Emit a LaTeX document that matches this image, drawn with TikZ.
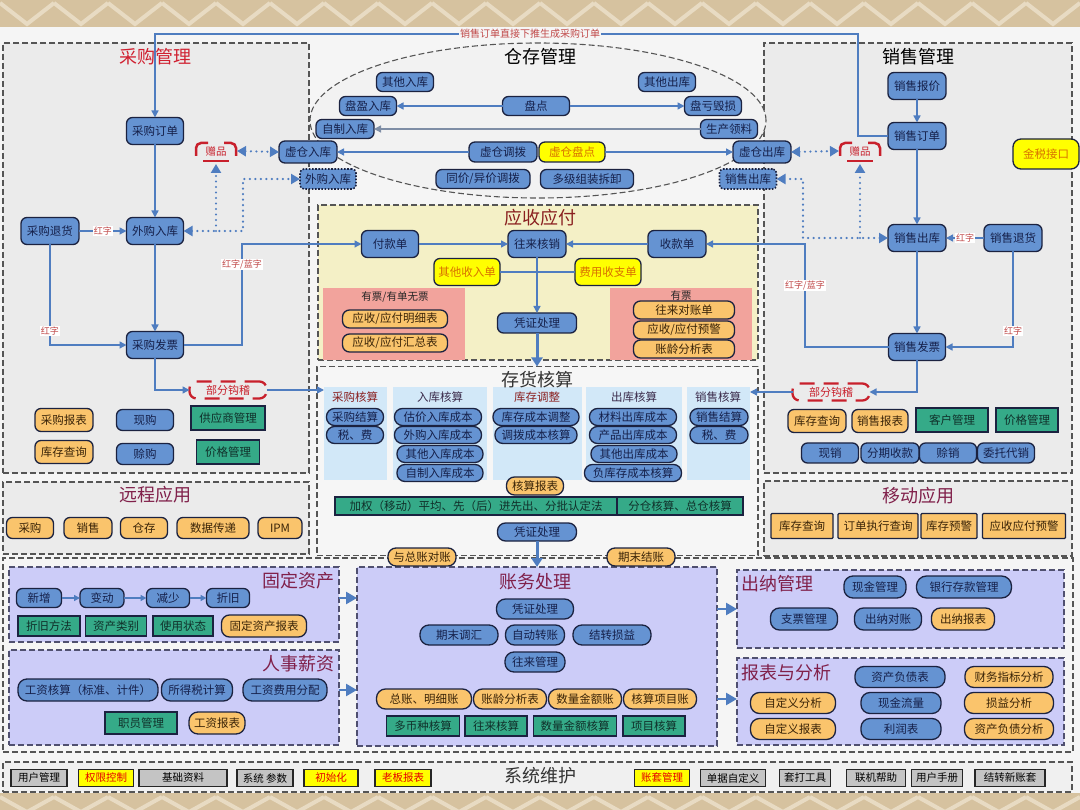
\documentclass[tikz,border=0pt]{standalone}
\usepackage{fontspec}
\setmainfont{Noto Sans CJK SC}
\usetikzlibrary{arrows.meta,shapes.geometric,calc}
\definecolor{bgtan}{HTML}{D6C29F}
\definecolor{bgtan2}{HTML}{E8DBC3}
\definecolor{mainbg}{HTML}{F5F5F5}
\definecolor{panelgray}{HTML}{EBEBEB}
\definecolor{ellfill}{HTML}{F2F2F2}
\definecolor{arfill}{HTML}{F4F0C6}
\definecolor{chfill}{HTML}{F6F6F6}
\definecolor{pinkfill}{HTML}{F2A39C}
\definecolor{colblue}{HTML}{D2E8F8}
\definecolor{lav}{HTML}{CCCCF8}
\definecolor{lavborder}{HTML}{505070}
\definecolor{sysfill}{HTML}{F0F0F0}
\definecolor{nblue}{HTML}{6593D2}
\definecolor{nborder}{HTML}{1B2240}
\definecolor{ntext}{HTML}{15204A}
\definecolor{norange}{HTML}{FAC46C}
\definecolor{otext}{HTML}{3A2408}
\definecolor{ngreen}{HTML}{35AA88}
\definecolor{gtext}{HTML}{10302A}
\definecolor{nyellow}{HTML}{FFFF00}
\definecolor{ytext}{HTML}{D87000}
\definecolor{ngray}{HTML}{C4C4C4}
\definecolor{conncol}{HTML}{4F7DC0}
\definecolor{graylink}{HTML}{7F8EA6}
\definecolor{redtitle}{HTML}{D02030}
\definecolor{artitle}{HTML}{8A2020}
\definecolor{magtitle}{HTML}{80204A}
\definecolor{lblred}{HTML}{C04848}
\definecolor{zpred}{HTML}{C8202C}
\definecolor{dashgray}{HTML}{555555}
\definecolor{hdrtext}{HTML}{3A2A4A}
\tikzset{
  base/.style={draw=nborder, line width=1.3pt, inner sep=0pt, outer sep=0pt, align=center, font=\fontsize{11.5}{13}\selectfont, text=ntext},
  bbox/.style={base, fill=nblue, rounded corners=6pt},
  pill/.style={base, fill=nblue, rounded corners=8pt},
  obox/.style={base, fill=norange, rounded corners=6pt, text=otext},
  opill/.style={base, fill=norange, rounded corners=8pt, text=otext},
  osq/.style={base, fill=norange, rounded corners=1pt, text=otext},
  gbox/.style={base, fill=ngreen, text=gtext},
  ybox/.style={base, fill=nyellow, rounded corners=6pt, text=ytext},
  dbox/.style={base, fill=nblue, rounded corners=4pt, dash pattern=on 1.6pt off 1.6pt, line width=1.6pt},
  graybox/.style={base, fill=ngray, text=black, font=\fontsize{10.5}{12}\selectfont, line width=1.2pt, draw=black!85},
  ysqbox/.style={base, fill=nyellow, text=red!90!black, font=\fontsize{10.5}{12}\selectfont, line width=1.2pt, draw=black!85},
  zpnode/.style={inner sep=0pt, outer sep=0pt, text=zpred, font=\fontsize{10.5}{12}\selectfont},
  zpmark/.style={draw=zpred, line width=2.5pt, rounded corners=5pt},
  bfnode/.style={draw=zpred, line width=2.3pt, dash pattern=on 15pt off 9pt, rounded corners=7pt, inner sep=0pt, outer sep=0pt, text=zpred, font=\fontsize{11}{13}\selectfont},
  panel/.style={draw=dashgray, dash pattern=on 6pt off 3pt, line width=1.1pt, inner sep=0pt, outer sep=0pt},
  lpanel/.style={panel, draw=lavborder, fill=lav},
  colbg/.style={fill=colblue, inner sep=0pt, outer sep=0pt},
  pinkbg/.style={fill=pinkfill, inner sep=0pt, outer sep=0pt},
  ttl/.style={font=\fontsize{18}{20}\selectfont, inner sep=0pt},
  hdr/.style={font=\fontsize{11.5}{13}\selectfont, inner sep=0pt, text=hdrtext},
  lbl/.style={font=\fontsize{9}{10}\selectfont, text=lblred, fill=white, inner sep=1pt},
  conn/.style={draw=conncol, line width=1.4pt, ->, >={Triangle[width=7pt,length=7pt]}},
  plainln/.style={draw=conncol, line width=1.4pt},
  dotc/.style={draw=conncol, line width=2.4pt, dash pattern=on 0pt off 5.5pt, line cap=round, >={Triangle[width=10pt,length=9pt]}},
  thickarr/.style={draw=conncol, line width=3pt, ->, >={Triangle[width=11pt,length=9pt]}},
  bigarr/.style={draw=conncol, line width=2.5pt, ->, >={Triangle[width=12pt,length=11pt]}},
}
\begin{document}
\begin{tikzpicture}[x=1pt,y=-1pt]
\useasboundingbox (0,0) rectangle (1080,810);
% background
\fill[bgtan] (0,0) rectangle (1080,810);
\foreach \i in {0,...,20} {
  \draw[bgtan2, line width=4pt] (\i*54,3) -- (\i*54+27,24) -- (\i*54+54,3);
  \draw[bgtan2, line width=4pt] (\i*54,797) -- (\i*54+27,812) -- (\i*54+54,797);
}
\fill[mainbg] (0,27) rectangle (1080,793);

% panels
\node[panel, fill=panelgray, minimum width=306, minimum height=430] (p_cg) at (156,258) {};
\node[panel, fill=panelgray, minimum width=308, minimum height=430] (p_xs) at (918,258) {};
\node[panel, ellipse, fill=ellfill, minimum width=456, minimum height=155] (p_cc) at (538,120.5) {};
\node[panel, fill=arfill, minimum width=440, minimum height=155] (p_ar) at (538,282.5) {};
\node[panel, fill=chfill, minimum width=441, minimum height=189] (p_ch) at (537.5,461) {};
\node[panel, fill=panelgray, minimum width=306, minimum height=72] (p_yc) at (156,518) {};
\node[panel, fill=panelgray, minimum width=308, minimum height=75] (p_yd) at (918,518.5) {};
\node[panel, fill=mainbg, minimum width=1070, minimum height=194] (p_low) at (538,655) {};
\node[lpanel, minimum width=330, minimum height=75] (p_gd) at (174,604.5) {};
\node[lpanel, minimum width=330, minimum height=95] (p_rs) at (174,697.5) {};
\node[lpanel, minimum width=360, minimum height=179] (p_zw) at (537,656.5) {};
\node[lpanel, minimum width=327, minimum height=78] (p_cn) at (900.5,609) {};
\node[lpanel, minimum width=327, minimum height=87] (p_bb) at (900.5,701.5) {};
\node[panel, fill=sysfill, minimum width=1069, minimum height=30] (p_xt) at (537.5,777) {};

% sub backgrounds
\node[pinkbg, minimum width=142, minimum height=72] (pk_l) at (394,324) {};
\node[pinkbg, minimum width=142, minimum height=72] (pk_r) at (681,324) {};
\node[colbg, minimum width=63, minimum height=93] (cgcol) at (355.5,433.5) {};
\node[colbg, minimum width=94, minimum height=93] (rkcol) at (440,433.5) {};
\node[colbg, minimum width=89, minimum height=93] (kccol) at (537.5,433.5) {};
\node[colbg, minimum width=96, minimum height=93] (ckcol) at (634,433.5) {};
\node[colbg, minimum width=63, minimum height=93] (xscol) at (718.5,433.5) {};

% titles
\node[ttl, text=redtitle] (t_cg) at (155,57) {采购管理};
\node[ttl] (t_cc) at (540,57) {仓存管理};
\node[ttl] (t_xs) at (918,57) {销售管理};
\node[ttl, text=artitle] (t_ar) at (540,218) {应收应付};
\node[ttl, text=black!80] (t_ch) at (537,380) {存货核算};
\node[ttl, text=magtitle] (t_yc) at (155,495) {远程应用};
\node[ttl, text=magtitle] (t_yd) at (918,496) {移动应用};
\node[ttl, text=magtitle] (t_gd) at (298,581) {固定资产};
\node[ttl, text=magtitle] (t_rs) at (298,664) {人事薪资};
\node[ttl, text=magtitle] (t_zw) at (535,582) {账务处理};
\node[ttl, text=magtitle] (t_cn) at (777,584) {出纳管理};
\node[ttl, text=magtitle] (t_bb) at (786,673) {报表与分析};
\node[ttl, text=black!80] (t_xt) at (540,776) {系统维护};

% ---------- 采购管理
\node[bbox, minimum width=57, minimum height=27] (cgord) at (155,131) {采购订单};
\node[bbox, minimum width=57, minimum height=27] (cgin) at (155,231) {外购入库};
\node[bbox, minimum width=58, minimum height=27] (cgret) at (50,231) {采购退货};
\node[bbox, minimum width=57, minimum height=27] (cginv) at (155,345) {采购发票};
\node[zpnode, minimum width=42, minimum height=26] (zpl) at (216,151) {赠品};
\node[bbox, minimum width=58, minimum height=22] (xcin) at (308,152) {虚仓入库};
\node[dbox, minimum width=56, minimum height=20] (wgin) at (328,179) {外购入库};
\node[bfnode, minimum width=77, minimum height=17] (bfl) at (228,390) {部分钩稽};
\node[obox, minimum width=58, minimum height=23] (cgrep) at (64,420) {采购报表};
\node[bbox, minimum width=57, minimum height=21] (xg) at (145,420) {现购};
\node[gbox, minimum width=74, minimum height=24] (gys) at (228,418) {供应商管理};
\node[obox, minimum width=58, minimum height=23] (kcq1) at (64,452) {库存查询};
\node[bbox, minimum width=57, minimum height=21] (sg) at (145,454) {赊购};
\node[gbox, minimum width=63, minimum height=24] (jg1) at (228,452) {价格管理};

% 远程应用
\node[obox, minimum width=47, minimum height=21] (yc1) at (30,528) {采购};
\node[obox, minimum width=48, minimum height=21] (yc2) at (88,528) {销售};
\node[obox, minimum width=47, minimum height=21] (yc3) at (144,528) {仓存};
\node[obox, minimum width=72, minimum height=21] (yc4) at (213,528) {数据传递};
\node[obox, minimum width=44, minimum height=21] (yc5) at (280,528) {IPM};

% ---------- 仓存管理
\node[bbox, minimum width=57, minimum height=19] (qtin) at (405,82) {其他入库};
\node[bbox, minimum width=57, minimum height=19] (qtout) at (667,82) {其他出库};
\node[bbox, minimum width=57, minimum height=19] (pyin) at (368,106) {盘盈入库};
\node[bbox, minimum width=67, minimum height=19] (pd) at (536,106) {盘点};
\node[bbox, minimum width=57, minimum height=19] (pk) at (713,106) {盘亏毁损};
\node[bbox, minimum width=58, minimum height=19] (zzin) at (345,129) {自制入库};
\node[bbox, minimum width=57, minimum height=19] (scll) at (729,129) {生产领料};
\node[bbox, minimum width=68, minimum height=20] (xcdb) at (503,152) {虚仓调拨};
\node[ybox, minimum width=66, minimum height=20] (xcpd) at (572,152) {虚仓盘点};
\node[bbox, minimum width=94, minimum height=19] (tjdb) at (483,179) {同价/异价调拨};
\node[bbox, minimum width=93, minimum height=19] (djzz) at (587,179) {多级组装拆卸};
\node[bbox, minimum width=58, minimum height=22] (xcout) at (762,152) {虚仓出库};
\node[dbox, minimum width=57, minimum height=20] (wsout) at (748,179) {销售出库};

% ---------- 销售管理
\node[bbox, minimum width=58, minimum height=27] (xsquote) at (917,86) {销售报价};
\node[bbox, minimum width=58, minimum height=27] (xsord) at (917,136) {销售订单};
\node[zpnode, minimum width=42, minimum height=26] (zpr) at (860,151) {赠品};
\node[ybox, rounded corners=8pt, minimum width=66, minimum height=30] (jsjk) at (1046,154) {金税接口};
\node[bbox, minimum width=58, minimum height=27] (xsout) at (917,238) {销售出库};
\node[bbox, minimum width=58, minimum height=27] (xsret) at (1013,238) {销售退货};
\node[bbox, minimum width=57, minimum height=27] (xsinv) at (917,347) {销售发票};
\node[bfnode, minimum width=77, minimum height=17] (bfr) at (831,392) {部分钩稽};
\node[obox, minimum width=58, minimum height=23] (kcq2) at (817,421) {库存查询};
\node[obox, minimum width=56, minimum height=23] (xsrep) at (880,421) {销售报表};
\node[gbox, minimum width=72, minimum height=24] (khgl) at (952,420) {客户管理};
\node[gbox, minimum width=62, minimum height=24] (jg2) at (1027,420) {价格管理};
\node[bbox, minimum width=57, minimum height=20] (xx) at (830,453) {现销};
\node[bbox, minimum width=58, minimum height=20] (fqsk) at (890,453) {分期收款};
\node[bbox, minimum width=57, minimum height=20] (sx) at (948,453) {赊销};
\node[bbox, minimum width=57, minimum height=20] (wtdx) at (1006,453) {委托代销};

% 移动应用
\node[osq, minimum width=62, minimum height=25] (yd1) at (802,526) {库存查询};
\node[osq, minimum width=80, minimum height=25] (yd2) at (878,526) {订单执行查询};
\node[osq, minimum width=56, minimum height=25] (yd3) at (949,526) {库存预警};
\node[osq, minimum width=83, minimum height=25] (yd4) at (1024,526) {应收应付预警};

% ---------- 应收应付
\node[bbox, minimum width=57, minimum height=27] (fk) at (390,244) {付款单};
\node[bbox, minimum width=58, minimum height=27] (wl) at (537,244) {往来核销};
\node[bbox, minimum width=58, minimum height=27] (sk) at (677,244) {收款单};
\node[ybox, minimum width=66, minimum height=27] (qtsr) at (467,272) {其他收入单};
\node[ybox, minimum width=66, minimum height=27] (fysz) at (608,272) {费用收支单};
\node[bbox, minimum width=79, minimum height=20] (pz1) at (537,323) {凭证处理};
\node[hdr, text=black!85, font=\fontsize{10.5}{12}\selectfont] (yp1) at (395,297) {有票/有单无票};
\node[hdr, text=black!85, font=\fontsize{10.5}{12}\selectfont] (yp2) at (681,296) {有票};
\node[obox, rounded corners=7pt, minimum width=105, minimum height=18] (mx) at (395,319) {应收/应付明细表};
\node[obox, rounded corners=7pt, minimum width=105, minimum height=18] (hz) at (395,343) {应收/应付汇总表};
\node[obox, rounded corners=7pt, minimum width=101, minimum height=18] (dzd) at (684,310) {往来对账单};
\node[obox, rounded corners=7pt, minimum width=101, minimum height=18] (yjb) at (684,330) {应收/应付预警};
\node[obox, rounded corners=7pt, minimum width=101, minimum height=18] (zlb) at (684,349) {账龄分析表};

% ---------- 存货核算
\node[hdr, text=artitle] (h1) at (355,397) {采购核算};
\node[hdr] (h2) at (440,397) {入库核算};
\node[hdr, text=artitle] (h3) at (537,397) {库存调整};
\node[hdr] (h4) at (634,397) {出库核算};
\node[hdr] (h5) at (718,397) {销售核算};
\node[pill, minimum width=57, minimum height=17] (a1) at (355,417) {采购结算};
\node[pill, minimum width=57, minimum height=17] (a2) at (355,435) {税、费};
\node[pill, minimum width=87, minimum height=17] (b1) at (438,417) {估价入库成本};
\node[pill, minimum width=87, minimum height=17] (b2) at (438,435) {外购入库成本};
\node[pill, minimum width=86, minimum height=17] (b3) at (440,454) {其他入库成本};
\node[pill, minimum width=86, minimum height=17] (b4) at (440,473) {自制入库成本};
\node[pill, minimum width=86, minimum height=17] (c1n) at (536,417) {库存成本调整};
\node[pill, minimum width=82, minimum height=17] (c2n) at (536,435) {调拨成本核算};
\node[pill, minimum width=87, minimum height=17] (d1n) at (633,417) {材料出库成本};
\node[pill, minimum width=87, minimum height=17] (d2n) at (633,435) {产品出库成本};
\node[pill, minimum width=86, minimum height=17] (d3n) at (634,454) {其他出库成本};
\node[pill, minimum width=97, minimum height=17] (d4n) at (633,473) {负库存成本核算};
\node[pill, minimum width=58, minimum height=17] (e1) at (719,417) {销售结算};
\node[pill, minimum width=58, minimum height=17] (e2) at (719,435) {税、费};
\node[opill, minimum width=57, minimum height=18] (hsbb) at (535,486) {核算报表};
\node[gbox, minimum width=282, minimum height=18] (jq1) at (476,506) {加权（移动）平均、先（后）进先出、分批认定法};
\node[gbox, minimum width=126, minimum height=18] (jq2) at (680,506) {分仓核算、总仓核算};
\node[pill, minimum width=79, minimum height=18] (pz2) at (537,532) {凭证处理};
\node[opill, minimum width=68, minimum height=18] (yzz) at (422,557) {与总账对账};
\node[opill, minimum width=68, minimum height=18] (qmjz) at (641,557) {期末结账};

% ---------- 固定资产
\node[bbox, minimum width=45, minimum height=19] (xz) at (39,598) {新增};
\node[bbox, minimum width=44, minimum height=19] (bdn) at (102,598) {变动};
\node[bbox, minimum width=43, minimum height=19] (jsn) at (168,598) {减少};
\node[bbox, minimum width=43, minimum height=19] (zjn) at (228,598) {折旧};
\node[gbox, minimum width=62, minimum height=20] (zjff) at (49,626) {折旧方法};
\node[gbox, minimum width=61, minimum height=20] (zclb) at (116,626) {资产类别};
\node[gbox, minimum width=60, minimum height=20] (syzt) at (183,626) {使用状态};
\node[opill, minimum width=85, minimum height=22] (gdbb) at (264,626) {固定资产报表};

% 人事薪资
\node[pill, rounded corners=9pt, minimum width=140, minimum height=22] (gzhs) at (88,690) {工资核算（标准、计件）};
\node[pill, rounded corners=9pt, minimum width=71, minimum height=22] (sds) at (197,690) {所得税计算};
\node[pill, rounded corners=9pt, minimum width=84, minimum height=22] (gzfp) at (285,690) {工资费用分配};
\node[gbox, minimum width=72, minimum height=22] (zygl) at (141,723) {职员管理};
\node[opill, rounded corners=9pt, minimum width=56, minimum height=22] (gzbb) at (217,723) {工资报表};

% 账务处理
\node[pill, rounded corners=9pt, minimum width=77, minimum height=20] (pz3) at (535,609) {凭证处理};
\node[pill, rounded corners=9pt, minimum width=78, minimum height=20] (qmth) at (459,635) {期末调汇};
\node[pill, rounded corners=9pt, minimum width=59, minimum height=20] (zdzz) at (535,635) {自动转账};
\node[pill, rounded corners=9pt, minimum width=78, minimum height=20] (jzsy) at (612,635) {结转损益};
\node[pill, rounded corners=9pt, minimum width=60, minimum height=20] (wlgl) at (535,662) {往来管理};
\node[opill, rounded corners=9pt, minimum width=95, minimum height=20] (zz) at (424,699) {总账、明细账};
\node[opill, rounded corners=9pt, minimum width=73, minimum height=20] (zlfx) at (510,699) {账龄分析表};
\node[opill, rounded corners=9pt, minimum width=73, minimum height=20] (slje) at (585,699) {数量金额账};
\node[opill, rounded corners=9pt, minimum width=73, minimum height=20] (hsxm) at (660,699) {核算项目账};
\node[gbox, minimum width=73, minimum height=20] (dbz) at (423,726) {多币种核算};
\node[gbox, minimum width=62, minimum height=20] (wlhs) at (496,726) {往来核算};
\node[gbox, minimum width=83, minimum height=20] (sljehs) at (575,726) {数量金额核算};
\node[gbox, minimum width=62, minimum height=20] (xmhs) at (654,726) {项目核算};

% 出纳管理
\node[pill, rounded corners=9pt, minimum width=62, minimum height=22] (xjgl) at (875,587) {现金管理};
\node[pill, rounded corners=10pt, minimum width=95, minimum height=22] (yhck) at (964,587) {银行存款管理};
\node[pill, rounded corners=9pt, minimum width=67, minimum height=22] (zpgl) at (804,619) {支票管理};
\node[pill, rounded corners=9pt, minimum width=67, minimum height=22] (cndz) at (888,619) {出纳对账};
\node[opill, rounded corners=9pt, minimum width=63, minimum height=22] (cnbb) at (963,619) {出纳报表};

% 报表与分析
\node[pill, rounded corners=9pt, minimum width=90, minimum height=21] (zcfz) at (900,677) {资产负债表};
\node[opill, rounded corners=9pt, minimum width=88, minimum height=21] (cwzb) at (1009,677) {财务指标分析};
\node[opill, rounded corners=9pt, minimum width=85, minimum height=21] (zdyfx) at (793,703) {自定义分析};
\node[pill, rounded corners=9pt, minimum width=80, minimum height=21] (xjll) at (901,703) {现金流量};
\node[opill, rounded corners=9pt, minimum width=89, minimum height=21] (sy) at (1009,703) {损益分析};
\node[opill, rounded corners=9pt, minimum width=85, minimum height=21] (zdybb) at (793,729) {自定义报表};
\node[pill, rounded corners=9pt, minimum width=80, minimum height=21] (lrb) at (901,729) {利润表};
\node[opill, rounded corners=9pt, minimum width=89, minimum height=21] (zcfzfx) at (1009,729) {资产负债分析};

% 系统维护
\node[graybox, minimum width=56, minimum height=17] (s1) at (39,778) {用户管理};
\node[ysqbox, minimum width=55, minimum height=17] (s2) at (106,778) {权限控制};
\node[graybox, minimum width=88, minimum height=17] (s3) at (183,778) {基础资料};
\node[graybox, minimum width=56, minimum height=17] (s4) at (265,778) {系统 参数};
\node[ysqbox, minimum width=54, minimum height=17] (s5) at (331,778) {初始化};
\node[ysqbox, minimum width=56, minimum height=17] (s6) at (403,778) {老板报表};
\node[ysqbox, minimum width=55, minimum height=17] (s7) at (662,778) {账套管理};
\node[graybox, minimum width=65, minimum height=17] (s8) at (733,778) {单据自定义};
\node[graybox, minimum width=51, minimum height=17] (s9) at (805,778) {套打工具};
\node[graybox, minimum width=59, minimum height=17] (s10) at (876,778) {联机帮助};
\node[graybox, minimum width=51, minimum height=17] (s11) at (937,778) {用户手册};
\node[graybox, minimum width=70, minimum height=17] (s12) at (1010,778) {结转新账套};

% 赠品 marks
\foreach \z in {zpl,zpr} {
  \draw[zpmark] ([shift={(-20,5)}]\z.center) -- ([shift={(-20,-8)}]\z.center) -- ([shift={(-8,-8)}]\z.center);
  \draw[zpmark] ([shift={(8,-8)}]\z.center) -- ([shift={(20,-8)}]\z.center) -- ([shift={(20,5)}]\z.center);
  \draw[zpred, line width=2.5pt] ([shift={(-13,10)}]\z.center) -- ([shift={(13,10)}]\z.center);
}

% ---------- connectors
\coordinate (tr) at (858,34);
\coordinate (tl) at (155,34);
\draw[conn] (xsord.west) -| (tr) -- (tl) -- (cgord.north);
\node[lbl, fill=mainbg, font=\fontsize{10}{11}\selectfont] (toplbl) at (530,34) {销售订单直接下推生成采购订单};

\draw[conn] (cgord.south) -- (cgin.north);
\draw[conn] (cgret.east) -- node[lbl]{红字} (cgin.west);
\draw[conn] (cgin.south) -- (cginv.north);
\draw[conn] (cgret.south) |- node[lbl,pos=0.43]{红字} (cginv.west);
\coordinate (c1) at (242,244);
\draw[conn] (cginv.east) -| node[lbl,pos=0.9]{红字/蓝字} (c1) -- (fk.west);
\draw[conn] (cginv.south) |- (bfl.west);
\draw[conn] (bfl.east) -- (bfl.east -| cgcol.west);
\draw[dotc,<->] (zpl.east) -- (xcin.west);
\coordinate (d1) at (243,179);
\draw[dotc,<->] (cgin.east) -| (d1) -- (wgin.west);
\draw[dotc,->] (zpl.south |- cgin.east) -- (zpl.south);

\draw[conn] (pd.west) -- (pyin.east);
\draw[conn] (pd.east) -- (pk.west);
\draw[conn, draw=graylink] (scll.west) -- (zzin.east);
\draw[conn] (xcdb.west) -- (xcin.east);
\draw[conn] (xcpd.east) -- (xcout.west);

\draw[conn] (xsquote.south) -- (xsord.north);
\draw[conn] (xsord.south) -- (xsout.north);
\draw[conn] (xsret.west) -- node[lbl]{红字} (xsout.east);
\draw[conn] (xsout.south) -- (xsinv.north);
\draw[conn] (xsret.south) |- node[lbl,pos=0.415]{红字} (xsinv.east);
\coordinate (c3) at (805,244);
\draw[conn] (xsinv.west) -| node[lbl,pos=0.8]{红字/蓝字} (c3) -- (sk.east);
\draw[conn] (xsinv.south) |- (bfr.east);
\draw[conn] (bfr.west) -- (bfr.west -| xscol.east);
\draw[dotc,<->] (xcout.east) -- (zpr.west);
\coordinate (d2) at (803,179);
\draw[dotc,<->] (xsout.west) -| (d2) -- (wsout.east);
\draw[dotc,->] (zpr.south |- xsout.west) -- (zpr.south);

\draw[conn] (fk.east) -- (wl.west);
\draw[conn] (sk.west) -- (wl.east);
\draw[plainln] (qtsr.east) -- (fysz.west);
\draw[conn] (wl.south) -- (pz1.north);
\draw[thickarr] (pz1.south) -- (pz1.south |- p_ch.north);
\draw[thickarr] (pz2.south) -- (pz2.south |- p_zw.north);

\draw[conn, >={Triangle[width=6pt,length=6pt]}] (xz.east) -- (bdn.west);
\draw[conn, >={Triangle[width=6pt,length=6pt]}] (bdn.east) -- (jsn.west);
\draw[conn, >={Triangle[width=6pt,length=6pt]}] (jsn.east) -- (zjn.west);
\draw[bigarr] (p_gd.east |- xz.center) -- (p_zw.west |- xz.center);
\draw[bigarr] (p_rs.east |- gzhs.center) -- (p_zw.west |- gzhs.center);
\draw[bigarr] (p_zw.east |- pz3.center) -- (p_cn.west |- pz3.center);
\draw[bigarr] (p_zw.east |- zz.center) -- (p_bb.west |- zz.center);
\end{tikzpicture}
\end{document}
